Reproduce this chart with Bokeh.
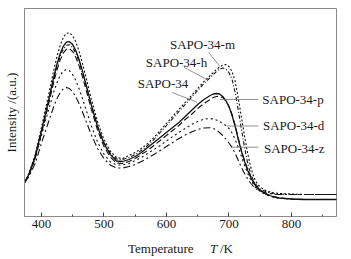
from bokeh.plotting import figure
from bokeh.models import Label, SingleIntervalTicker, FixedTicker, Div
from bokeh.layouts import column
from bokeh.embed import file_html
from bokeh.resources import INLINE

# Temperature grid (K)
T = [373, 380, 390, 400, 410, 420, 425, 430, 435, 440, 445, 450, 455, 460, 465, 470,
     480, 490, 500, 510, 520, 530, 540, 550, 560, 570, 580, 590, 600, 610, 620, 630,
     640, 650, 660, 670, 675, 680, 685, 690, 695, 700, 705, 710, 715, 720, 725, 730,
     735, 740, 745, 750, 760, 770, 780, 800, 820, 840, 872]

# Intensities (a.u.)
sapo34 = [34, 42, 60, 85.4, 112.2, 140, 152.5, 162.8, 170.2, 174.3, 174.8, 171.9, 166, 157.5, 147.1, 135.5,
          111.3, 89.6, 73, 62.1, 55.5, 55, 57, 60, 64, 69, 74, 79, 84, 89, 94, 100,
          106, 112, 117, 121, 122.5, 123, 122.5, 120, 116, 110, 101, 90, 77, 65, 55, 46,
          39, 33, 29, 26, 22, 20, 18.5, 17.5, 17, 17, 17]
sapo34_m = [34, 43, 61.7, 88.8, 117.3, 146.9, 160.1, 171.1, 178.9, 183.2, 183.7, 180.7, 174.6, 165.7, 154.8, 142.6,
            117.2, 94.5, 77.1, 65.7, 59, 58, 61, 64, 68, 73, 79, 86, 93, 100, 107, 114,
            121, 128, 135, 141, 144, 147, 149.5, 151.5, 152, 150, 145, 135, 118, 99, 80, 63,
            49, 39, 33, 29.5, 25.5, 24, 23, 22.5, 22, 22, 22]
sapo34_h = [34, 42, 58.9, 84.2, 110.5, 137.8, 150, 160.1, 167.3, 171.3, 171.8, 169, 163.4, 155.2, 145.2, 134.1,
            110.8, 90, 74.1, 63.6, 57.5, 57, 59, 62, 66, 71, 77, 84, 91, 98, 105, 112,
            119, 126, 133, 139, 142, 145, 147.5, 148.5, 147.5, 144, 137, 124, 106, 87, 69, 53,
            42, 35, 30.5, 27.5, 24.5, 23, 22.5, 22, 22, 22, 22]
sapo34_p = [34, 41, 58, 82.7, 108.2, 134.7, 146.6, 156.4, 163.4, 167.3, 167.8, 165, 159.4, 151.2, 141.2, 130.1,
            106.8, 86, 70.1, 59.6, 53.5, 53, 55, 58, 62, 66, 71, 76, 81, 86, 91, 97,
            102, 108, 113, 117, 119, 120, 120, 119, 115.5, 110, 102, 91, 78, 66, 56, 47,
            40, 34, 29.5, 26.5, 22.5, 20, 18.5, 17.5, 17, 17, 17]
sapo34_d = [34, 40, 57.8, 80.9, 103.2, 125, 134.1, 141, 145.5, 147, 145.7, 141.9, 136, 128.2, 119.2, 109.6,
            90.5, 74.2, 62.4, 54.8, 51.5, 51.5, 53, 56, 59, 63, 67, 71, 75.5, 80, 84, 88,
            92, 95, 97.5, 98, 97.5, 96.5, 95, 93, 91, 88, 83.5, 77, 69, 60, 51, 43,
            36.5, 31, 27.5, 25, 21.5, 19.5, 18.5, 17.5, 17, 17, 17]
sapo34_z = [34, 40, 52.9, 73.1, 92, 110.4, 118.1, 124, 127.7, 129, 127.9, 124.7, 119.8, 113.2, 105.6, 97.6,
            81.5, 67.8, 57.9, 51.6, 48.5, 48.5, 50, 52, 55, 58.5, 62, 66, 70, 74, 78, 81.5,
            84.5, 87, 88.5, 88.8, 88, 86.5, 84, 81, 77.5, 73.5, 69, 63, 56, 49, 43, 37.5,
            33, 29.5, 27, 25.5, 23.5, 22.5, 22, 22, 22, 22, 22]

series_names = ["SAPO-34-m", "SAPO-34-h", "SAPO-34", "SAPO-34-p", "SAPO-34-d", "SAPO-34-z"]
series_values = [sapo34_m, sapo34_h, sapo34, sapo34_p, sapo34_d, sapo34_z]

# styles / layout (not data)
dashes = ["2 2", "4 2 1 2", "solid", "6 3", "2 3", "7 3 2 3"]
widths = [1.1, 1.1, 1.3, 1.1, 1.1, 1.1]
label_pos = [(605.7, 172), (567, 153.7), (554, 132.7), (753.3, 117), (754.4, 91.5), (756, 68.5)]
leaders = [(667.4, 164.3, 685.3, 150), (627.8, 149.3, 664.7, 137), (609.3, 124, 648.9, 114.3),
           (685.3, 117, 747, 117), (696.4, 90.5, 747, 90.5), (704.3, 69.3, 747, 69.3)]

FONT = "Liberation Serif"
GRAY = "#8a8a8a"

p = figure(width=351, height=239, x_range=(373, 872), y_range=(0, 208),
           output_backend="svg", toolbar_location=None,
           min_border_left=21, min_border_right=15, min_border_top=8, min_border_bottom=23)
p.background_fill_color = "white"
p.border_fill_color = "white"
p.outline_line_color = GRAY
p.outline_line_width = 1
p.xgrid.visible = False
p.ygrid.visible = False

for vals, dash, w in zip(series_values, dashes, widths):
    p.line(T, vals, line_color="#111111", line_width=w, line_dash=dash)

for (x1, y1, x2, y2) in leaders:
    p.segment(x0=[x1], y0=[y1], x1=[x2], y1=[y2], line_color="#777777", line_width=0.8)

for name, (lx, ly) in zip(series_names, label_pos):
    p.add_layout(Label(x=lx, y=ly, text=name, text_font=FONT, text_font_size="13px",
                       text_baseline="middle", text_align="left", text_color="#1a1a1a"))

# x axis
p.xaxis.ticker = SingleIntervalTicker(interval=100, num_minor_ticks=2)
p.xaxis.axis_line_color = GRAY
p.xaxis.major_tick_in = 4
p.xaxis.major_tick_out = 0
p.xaxis.minor_tick_in = 2
p.xaxis.minor_tick_out = 0
p.xaxis.major_tick_line_color = "#444444"
p.xaxis.minor_tick_line_color = "#444444"
p.xaxis.major_label_text_font = FONT
p.xaxis.major_label_text_font_size = "13px"
p.xaxis.major_label_text_color = "#1a1a1a"
p.xaxis.major_label_standoff = 3

# y axis
p.yaxis.ticker = FixedTicker(ticks=[])
p.yaxis.axis_line_color = GRAY
p.yaxis.major_tick_out = 0
p.yaxis.minor_tick_out = 0
p.yaxis.major_label_standoff = 0
p.yaxis.axis_label = "Intensity /(a.u.)"
p.yaxis.axis_label_text_font = FONT
p.yaxis.axis_label_text_font_size = "13px"
p.yaxis.axis_label_text_font_style = "normal"
p.yaxis.axis_label_text_color = "#1a1a1a"
p.yaxis.axis_label_standoff = 6

# x axis title with italic T (HTML row under the figure)
span = "position:absolute;top:0;line-height:20px;white-space:pre;"
title_html = (
    '<div style="position:relative;width:351px;height:20px;font-family:\'Liberation Serif\';'
    'font-size:13px;color:#1a1a1a;">'
    f'<span style="{span}left:128px;">Temperature</span>'
    f'<span style="{span}left:210px;font-style:italic;">T</span>'
    f'<span style="{span}left:220px;">/K</span>'
    '</div>'
)
xtitle = Div(text=title_html, width=351, height=20, margin=(0, 0, 0, 0))

layout = column(p, xtitle, spacing=0)
open("out.html", "w").write(file_html(layout, INLINE))
